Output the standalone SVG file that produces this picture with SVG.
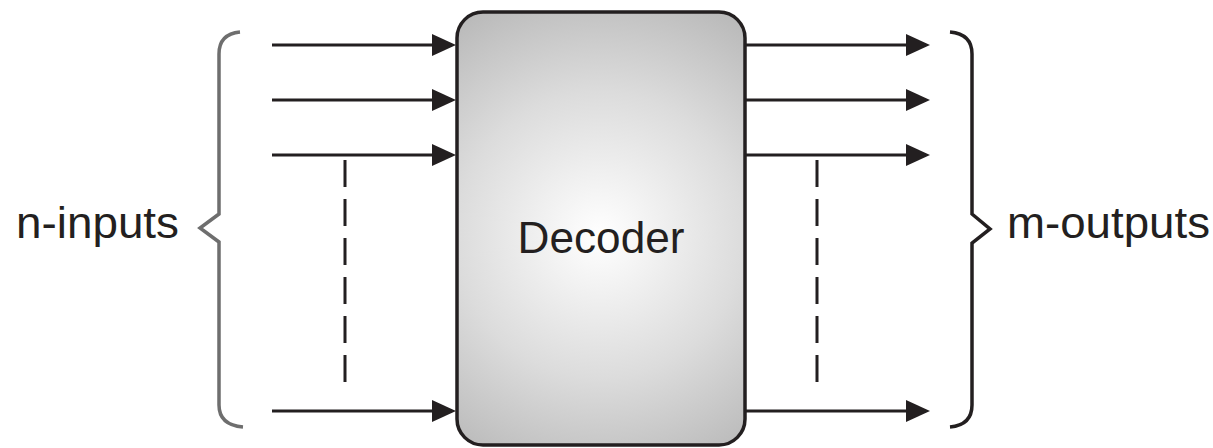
<svg xmlns="http://www.w3.org/2000/svg" width="1213" height="448" viewBox="0 0 1213 448">
<style>
  .wire { stroke: #231f20; stroke-width: 3; fill: none; marker-end: url(#arrow); }
  .dash { stroke: #231f20; stroke-width: 3; fill: none; stroke-dasharray: 27 12; }
  .brace { fill: none; stroke-width: 3.5; stroke-linejoin: miter; }
  .lbl { font-family: "Liberation Sans", Arial, sans-serif; font-size: 45px; fill: #231f20; }
</style>
<defs>
  <marker id="arrow" markerUnits="userSpaceOnUse" markerWidth="24" markerHeight="22" refX="20" refY="11" orient="auto">
    <path d="M0,0 L24,11 L0,22 z" fill="#231f20"/>
  </marker>
  <radialGradient id="boxfill" cx="600" cy="235" r="260" gradientUnits="userSpaceOnUse">
    <stop offset="0" stop-color="#ffffff"/>
    <stop offset="0.55" stop-color="#dcdcdc"/>
    <stop offset="1" stop-color="#b8b8b8"/>
  </radialGradient>
</defs>

<g id="decoder">
  <rect x="457" y="12" width="288" height="433" rx="26" ry="26" fill="url(#boxfill)" stroke="#231f20" stroke-width="3.5"/>
  <text class="lbl" x="601" y="253" text-anchor="middle" textLength="167" lengthAdjust="spacingAndGlyphs">Decoder</text>
</g>

<g id="n-inputs">
  <path class="brace" stroke="#6e6e6e" d="M240,32 Q219,34 219,54 L219,214 L200,228 L219,242 L219,405 Q219,425 243,427"/>
  <text class="lbl" x="16" y="238" textLength="163" lengthAdjust="spacingAndGlyphs">n-inputs</text>
</g>

<g id="m-outputs">
  <path class="brace" stroke="#231f20" d="M950,32 Q972,34 972,54 L972,214 L990,229 L972,243 L972,405 Q972,425 950,427"/>
  <text class="lbl" x="1007" y="238" textLength="203" lengthAdjust="spacingAndGlyphs">m-outputs</text>
</g>

<g id="connectors">
  <line class="wire" x1="272" y1="45" x2="452" y2="45"/>
  <line class="wire" x1="272" y1="100" x2="452" y2="100"/>
  <line class="wire" x1="272" y1="155" x2="452" y2="155"/>
  <line class="wire" x1="272" y1="411" x2="452" y2="411"/>
  <line class="wire" x1="745" y1="45" x2="926" y2="45"/>
  <line class="wire" x1="745" y1="100" x2="926" y2="100"/>
  <line class="wire" x1="745" y1="155" x2="926" y2="155"/>
  <line class="wire" x1="745" y1="411" x2="926" y2="411"/>
  <line class="dash" x1="345" y1="160" x2="345" y2="392"/>
  <line class="dash" x1="817" y1="160" x2="817" y2="392"/>
</g>
</svg>
